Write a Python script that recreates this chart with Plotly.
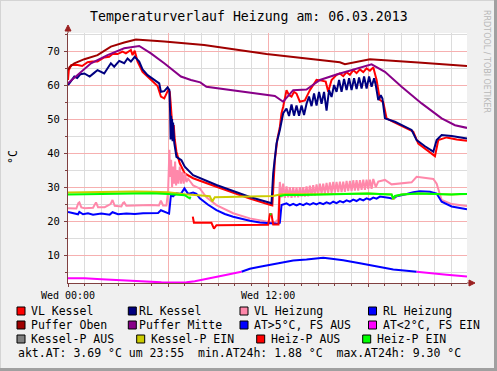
import plotly.graph_objects as go

# ---------------- data (hours since Wed 00:00, values in °C) ----------------
vl_kessel_h = [0, 0.05, 0.2, 0.58, 0.85, 1.17, 1.45, 1.77, 2.17, 2.47, 2.67, 2.97, 3.27, 3.47, 3.77, 3.87, 4.0,
               4.17, 4.47, 4.97, 5.37, 5.57, 5.77, 6.0, 6.1, 6.15, 6.22, 6.28, 6.34, 6.4, 6.5, 6.7, 7.0, 7.5, 8.9,
               10.9, 12.1, 12.25, 12.4, 12.55, 12.7, 12.8, 12.9, 13.1, 13.25, 13.4, 13.55, 13.7, 13.9, 14.2, 14.5,
               14.9, 15.2, 15.45, 15.6, 15.8, 16.1, 16.3, 16.5, 16.7, 16.9, 17.1, 17.3, 17.5, 17.7, 17.9, 18.1,
               18.3, 18.5, 18.7, 18.9, 19.1, 19.5, 20.1, 20.7, 21.0, 21.5, 22.0, 22.2, 22.7, 23.3, 23.92]
vl_kessel_v = [61.5, 64.4, 65.9, 65.9, 65.6, 66.7, 66.9, 66.9, 68.1, 68.3, 69.1, 69.1, 69.8, 69.3, 70.3, 68.8, 70.1,
               66.9, 63.9, 61.5, 59.7, 56.6, 56.1, 58.5, 58.0, 55.0, 50.0, 46.0, 48.2, 44.0, 40.4, 37.0, 34.0, 32.6,
               30.1, 26.6, 24.8, 24.6, 37.9, 44.0, 47.7, 51.7, 53.6, 58.5, 57.0, 56.6, 58.0, 57.5, 55.1, 55.5, 58.5,
               61.5, 61.3, 61.0, 58.0, 61.5, 63.0, 63.4, 62.6, 63.8, 63.0, 64.4, 63.5, 64.6, 63.8, 64.9, 64.2,
               65.2, 61.5, 55.6, 55.0, 50.2, 49.2, 47.8, 46.3, 42.8, 41.0, 39.1, 43.8, 44.6, 44.0, 43.6]

rl_kessel_h = [0, 0.2, 0.38, 0.55, 0.75, 0.98, 1.3, 1.55, 1.77, 2.17, 2.57, 2.77, 3.07, 3.37, 3.57, 3.77, 4.0, 4.27,
               4.47, 4.77, 5.17, 5.47, 5.57, 5.77, 5.97, 6.08, 6.12, 6.15, 6.18, 6.21, 6.24, 6.27, 6.3, 6.33, 6.37,
               6.5, 6.8, 7.0, 7.5, 8.9, 10.9, 12.1, 12.2, 12.3, 12.5, 12.7, 12.9, 13.1, 13.25, 13.4, 13.55, 13.7,
               13.85, 14.0, 14.15, 14.3, 14.45, 14.6, 14.75, 14.9, 15.05, 15.2, 15.35, 15.5, 15.65, 15.8, 15.95,
               16.1, 16.25, 16.4, 16.55, 16.7, 16.85, 17.0, 17.15, 17.3, 17.45, 17.6, 17.75, 17.9, 18.05, 18.2,
               18.35, 18.45, 18.6, 18.75, 18.85, 19.0, 19.6, 20.6, 20.9, 21.4, 21.9, 22.1, 22.4, 23.0, 23.92]
rl_kessel_v = [60.0, 61.5, 62.5, 62.1, 63.2, 63.4, 62.5, 63.5, 64.4, 63.4, 66.4, 65.4, 67.1, 66.4, 67.8, 66.9, 68.3,
               66.9, 64.6, 62.9, 61.5, 60.5, 58.0, 58.2, 59.3, 58.5, 52.0, 44.0, 51.0, 45.0, 50.0, 43.5, 49.0, 44.0,
               43.0, 38.9, 37.9, 36.0, 33.5, 30.6, 27.1, 25.4, 25.2, 34.0, 42.8, 46.8, 51.7, 53.1, 50.9, 54.3, 51.0,
               54.0, 51.0, 54.0, 51.2, 54.5, 56.6, 53.8, 57.5, 54.0, 58.0, 54.5, 58.0, 52.5, 58.5, 56.5, 60.0,
               58.0, 61.5, 58.0, 61.8, 58.5, 62.0, 58.5, 62.0, 58.8, 62.2, 59.0, 62.5, 59.0, 62.5, 59.5,
               62.0, 60.0, 55.6, 57.0, 56.0, 50.2, 49.2, 46.8, 43.8, 42.0, 40.4, 43.8, 45.3, 45.0, 44.3]

vl_heizung_h = [0, 0.5, 0.62, 0.68, 0.8, 1.0, 1.5, 1.62, 1.68, 1.8, 2.2, 2.55, 2.67, 2.8, 3.2, 3.3, 3.37, 3.5, 4.0,
                4.5, 5.0, 5.45, 5.57, 5.7, 5.9, 6.0, 6.08, 6.12, 6.18, 6.24, 6.3, 6.36, 6.42, 6.48, 6.55, 6.62,
                6.7, 6.78, 6.86, 6.94, 7.02, 7.1, 7.2, 7.35, 7.5, 7.9, 8.3, 8.9, 9.9, 10.9, 11.9, 12.2, 12.45, 12.6,
                12.7, 12.8, 12.9, 13.0, 13.1, 13.2, 13.3, 13.4, 13.5, 13.6, 13.7, 13.8, 13.9, 14.0, 14.1, 14.2,
                14.3, 14.4, 14.5, 14.6, 14.7, 14.8, 14.9, 15.0, 15.1, 15.2, 15.3, 15.4, 15.5, 15.6, 15.7, 15.8,
                15.9, 16.0, 16.1, 16.2, 16.3, 16.4, 16.5, 16.6, 16.7, 16.8, 16.9, 17.0, 17.1, 17.2, 17.3, 17.4,
                17.5, 17.6, 17.7, 17.8, 17.9, 18.0, 18.1, 18.2, 18.3, 18.45, 18.6, 19.0, 19.4, 20.6, 20.9, 21.9,
                22.1, 22.4, 23.0, 23.92]
vl_heizung_v = [23.8, 23.7, 25.3, 25.5, 24.0, 23.8, 23.9, 25.3, 25.5, 24.1, 24.1, 25.0, 26.2, 24.5, 24.3, 25.3, 25.5,
                24.5, 24.6, 24.6, 24.7, 24.6, 26.0, 24.6, 24.6, 28.5, 41.0, 33.0, 38.0, 30.0, 36.0, 31.0, 37.5,
                30.5, 35.0, 31.0, 36.0, 31.0, 34.5, 31.0, 34.0, 31.5, 32.5, 31.5, 30.5, 29.6, 27.0, 24.7, 22.3,
                20.8, 19.8, 19.6, 19.8, 20.5, 31.5, 27.0, 31.0, 26.8, 30.2, 27.0, 30.0, 26.8, 30.0, 27.0, 29.8,
                27.0, 30.0, 27.2, 30.0, 27.2, 30.2, 27.3, 30.4, 27.5, 30.6, 27.5, 30.8, 27.8, 31.0, 28.0, 31.0,
                28.0, 31.2, 28.2, 31.4, 28.3, 31.5, 28.4, 31.5, 28.5, 31.6, 28.5, 31.6, 28.6, 31.8, 28.8, 31.8,
                28.8, 32.0, 29.0, 32.0, 29.0, 32.0, 29.2, 32.2, 29.2, 32.2, 29.4, 32.2, 29.5, 32.4, 30.0, 31.6,
                32.1, 30.8, 31.4, 33.0, 32.4, 31.0, 26.2, 25.0, 24.4]

rl_heizung_h = [0, 0.3, 0.6, 0.68, 0.9, 1.2, 1.5, 2.0, 2.5, 2.67, 3.0, 3.5, 4.0, 4.5, 5.0, 5.4, 5.57, 5.8, 6.06, 6.17,
                6.3, 6.5, 6.77, 6.98, 7.2, 7.5, 7.7, 7.9, 8.4, 8.9, 9.4, 9.9, 10.4, 10.9, 11.5, 12.1, 12.55, 12.7,
                12.8, 13.1, 13.3, 13.5, 13.7, 13.9, 14.1, 14.3, 14.5, 14.7, 14.9, 15.1, 15.3, 15.5, 15.7, 15.9,
                16.1, 16.3, 16.5, 16.7, 16.9, 17.1, 17.3, 17.5, 17.7, 17.9, 18.1, 18.3, 18.5, 18.7, 19.0, 19.3,
                19.5, 19.7, 20.2, 20.7, 21.1, 21.7, 22.1, 22.4, 23.0, 23.92]
rl_heizung_v = [22.7, 22.4, 22.0, 22.7, 22.0, 22.3, 21.9, 22.2, 21.9, 22.6, 22.0, 22.2, 22.1, 22.3, 22.3, 22.4, 23.2,
                22.8, 22.2, 27.6, 27.3, 28.2, 28.0, 29.6, 28.0, 28.4, 28.0, 26.7, 24.8, 23.2, 22.1, 21.3, 20.6,
                20.1, 19.6, 19.3, 19.2, 19.5, 24.7, 25.2, 24.6, 25.1, 24.6, 25.1, 24.7, 25.2, 24.8, 25.3, 24.9,
                25.4, 25.0, 25.5, 25.1, 25.7, 25.3, 25.9, 25.5, 26.1, 25.7, 26.3, 25.9, 26.5, 26.1, 26.7, 26.3,
                26.9, 26.6, 27.2, 27.1, 26.8, 26.5, 27.3, 27.8, 28.5, 28.8, 28.6, 28.1, 25.7, 24.3, 23.5]

puffer_oben_h = [0, 0.1, 0.38, 0.98, 1.77, 2.57, 3.37, 4.07, 5.77, 8.16, 11.9, 14.0, 16.3, 16.6, 17.3, 18.1, 21.0, 23.92]
puffer_oben_v = [64.4, 65.3, 66.4, 67.6, 68.8, 71.3, 72.5, 73.4, 72.8, 71.8, 69.1, 68.0, 66.7, 66.1, 66.9, 67.6,
                 66.6, 65.6]

puffer_mitte_h = [0, 0.58, 1.38, 2.37, 3.37, 4.27, 4.97, 5.77, 6.77, 7.37, 7.93, 8.3, 9.9, 12.4, 12.9, 13.5, 14.3,
                  15.1, 16.1, 17.2, 18.2, 19.0, 20.0, 21.2, 22.4, 23.2, 23.92]
puffer_mitte_v = [60.5, 62.9, 66.4, 68.8, 70.8, 71.5, 69.3, 66.4, 62.5, 61.5, 60.8, 59.5, 58.5, 56.8, 55.1, 58.5,
                  58.7, 61.5, 63.1, 64.6, 66.1, 63.9, 59.5, 54.6, 50.2, 48.2, 47.4]

at_cold1_h = [0, 0.5, 1, 2, 3, 3.5, 4.6, 5.6, 6.1, 7.1, 7.6, 8.1, 8.6, 9.1, 9.6, 10.1, 10.4]
at_cold1_v = [3.2, 3.3, 3.2, 2.9, 2.6, 2.45, 2.3, 2.0, 1.95, 2.0, 2.3, 2.85, 3.3, 3.8, 4.3, 4.8, 5.1]
at_warm_h = [10.4, 10.9, 11.5, 12.1, 12.7, 13.5, 14.3, 15.3, 15.8, 16.5, 17.5, 18.5, 19.5, 20.3, 20.9]
at_warm_v = [5.1, 6.0, 6.6, 7.2, 7.7, 8.4, 8.7, 9.2, 8.9, 8.5, 7.6, 6.7, 5.8, 5.4, 5.1]
at_cold2_h = [20.9, 21.4, 22.0, 22.7, 23.4, 23.92]
at_cold2_v = [5.1, 4.8, 4.6, 4.2, 3.9, 3.7]

kessel_p_ein_h = [0, 1, 2, 3, 4, 5, 6, 7, 7.5, 8.0, 8.5, 8.65, 8.8, 9.5, 10.5, 11.5, 12.3, 12.7, 13, 15, 17, 18,
                  19, 19.4, 19.5, 19.6, 20, 21, 22, 23, 23.92]
kessel_p_ein_v = [28.4, 28.5, 28.6, 28.7, 28.7, 28.6, 28.5, 27.9, 27.6, 27.5, 27.3, 25.8, 27.0, 27.1, 27.2, 27.3,
                  27.4, 27.8, 27.9, 27.9, 28.0, 28.1, 27.9, 27.8, 26.3, 27.3, 27.8, 28.1, 28.0, 27.8, 28.0]

heiz_p_aus_h = [7.48, 7.55, 8.6, 8.75, 8.9, 12.0, 12.1, 12.2, 12.3, 12.62, 12.68]
heiz_p_aus_v = [21.3, 19.5, 19.5, 17.8, 18.8, 18.9, 22.0, 22.0, 19.0, 19.0, 27.5]

heiz_p_ein1_h = [0, 1, 2, 3, 4, 5, 6, 6.5, 7.0, 7.2, 7.3, 7.35]
heiz_p_ein1_v = [27.8, 27.9, 28.0, 28.1, 28.2, 28.2, 28.0, 27.9, 27.6, 27.0, 26.7, 27.2]
heiz_p_ein2_h = [12.1, 12.2]
heiz_p_ein2_v = [22.0, 22.0]
heiz_p_ein3_h = [12.7, 13, 14, 15, 16, 17, 18, 19, 19.4, 19.5, 19.6, 20, 21, 22, 22.5, 23, 23.5, 23.92]
heiz_p_ein3_v = [27.4, 27.7, 27.7, 27.8, 27.9, 28.0, 28.1, 27.9, 27.8, 26.7, 27.4, 27.8, 28.1, 28.0, 27.9, 27.8,
                 28.0, 28.0]

x_tick_vals = [0, 6, 12, 18]
x_tick_text = ["Wed 00:00", "", "Wed 12:00", ""]
y_tick_vals = [10, 20, 30, 40, 50, 60, 70]

legend_labels = [["VL Kessel", "RL Kessel", "VL Heizung", "RL Heizung"],
                 ["Puffer Oben", "Puffer Mitte", "AT>5°C, FS AUS", "AT<2°C, FS EIN"],
                 ["Kessel-P AUS", "Kessel-P EIN", "Heiz-P AUS", "Heiz-P EIN"]]
legend_colors = [["#FF0000", "#000080", "#FF88AA", "#0000FF"],
                 ["#A00000", "#880088", "#0000FF", "#FF00FF"],
                 ["#808080", "#CCCC00", "#FF0000", "#00FF00"]]
summary_text = "akt.AT: 3.69 °C um 23:55  min.AT24h: 1.88 °C  max.AT24h: 9.30 °C"
title_text = "Temperaturverlauf Heizung am: 06.03.2013"

# ---------------- figure ----------------
W, H = 497, 371
L, R, T, B = 68, 30, 33, 88
PW, PH = W - L - R, H - T - B
MONO = "DejaVu Sans Mono"


def px(x):
    return (x - L) / PW


def py(y):
    return (H - B - y) / PH


fig = go.Figure()


def add_line(h, v, color, width=2):
    fig.add_trace(go.Scatter(x=h, y=v, mode="lines", line=dict(color=color, width=width),
                             showlegend=False, hoverinfo="skip"))


add_line(vl_kessel_h, vl_kessel_v, "#FF0000")
add_line(rl_kessel_h, rl_kessel_v, "#000080")
add_line(vl_heizung_h, vl_heizung_v, "#FF88AA")
add_line(rl_heizung_h, rl_heizung_v, "#0000FF")
add_line(puffer_oben_h, puffer_oben_v, "#A00000")
add_line(puffer_mitte_h, puffer_mitte_v, "#880088")
add_line(at_warm_h, at_warm_v, "#0000FF")
add_line(at_cold1_h, at_cold1_v, "#FF00FF")
add_line(at_cold2_h, at_cold2_v, "#FF00FF")
add_line(kessel_p_ein_h, kessel_p_ein_v, "#CCCC00")
add_line(heiz_p_aus_h, heiz_p_aus_v, "#FF0000")
add_line(heiz_p_ein1_h, heiz_p_ein1_v, "#00FF00")
add_line(heiz_p_ein2_h, heiz_p_ein2_v, "#00FF00")
add_line(heiz_p_ein3_h, heiz_p_ein3_v, "#00FF00")

axis_col = "#804040"
fig.update_layout(
    width=W, height=H,
    margin=dict(l=L, r=R, t=T, b=B, pad=0),
    paper_bgcolor="#F0F0F0", plot_bgcolor="#FFFFFF",
    font=dict(family=MONO, size=10, color="#000000"),
    xaxis=dict(range=[0, 23.92], tickmode="array", tickvals=x_tick_vals, ticktext=x_tick_text,
               showgrid=True, gridcolor="#F6B0B0", gridwidth=1, zeroline=False,
               showline=True, linecolor=axis_col, linewidth=1,
               ticks="outside", ticklen=3, tickcolor=axis_col, tickfont=dict(family=MONO, size=10),
               minor=dict(dtick=1, tick0=0, showgrid=True, gridcolor="#DCDCDC", gridwidth=1,
                          ticks="outside", ticklen=2, tickcolor=axis_col)),
    yaxis=dict(range=[1.8, 75.3], tickmode="array", tickvals=y_tick_vals,
               showgrid=True, gridcolor="#F6B0B0", gridwidth=1, zeroline=False,
               showline=True, linecolor=axis_col, linewidth=1,
               ticks="outside", ticklen=3, tickcolor=axis_col, tickfont=dict(family=MONO, size=10.5),
               ticklabelstandoff=2,
               minor=dict(dtick=5, tick0=0, showgrid=True, gridcolor="#DCDCDC", gridwidth=1,
                          ticks="outside", ticklen=2, tickcolor=axis_col)),
)

shapes = []
annotations = []

# frame of the canvas
shapes.append(dict(type="line", xref="paper", yref="paper", x0=px(0), x1=px(W), y0=py(0.5), y1=py(0.5),
                   line=dict(color="#D4D4D4", width=1)))
shapes.append(dict(type="line", xref="paper", yref="paper", x0=px(0.5), x1=px(0.5), y0=py(0), y1=py(H),
                   line=dict(color="#D4D4D4", width=1)))
shapes.append(dict(type="line", xref="paper", yref="paper", x0=px(0), x1=px(W), y0=py(H - 1.5), y1=py(H - 1.5),
                   line=dict(color="#A0A0A0", width=3)))
shapes.append(dict(type="line", xref="paper", yref="paper", x0=px(W - 1.5), x1=px(W - 1.5), y0=py(0), y1=py(H),
                   line=dict(color="#A0A0A0", width=3)))

# axis arrows
shapes.append(dict(type="line", xref="paper", yref="paper", x0=px(L), x1=px(L), y0=py(T), y1=py(29),
                   line=dict(color=axis_col, width=1)))
shapes.append(dict(type="path", xref="paper", yref="paper",
                   path="M {} {} L {} {} L {} {} Z".format(px(L - 3), py(31), px(L + 3), py(31), px(L), py(25)),
                   fillcolor="#9B2020", line=dict(color="#9B2020", width=1)))
shapes.append(dict(type="line", xref="paper", yref="paper", x0=px(L + PW), x1=px(L + PW + 3), y0=0, y1=0,
                   line=dict(color=axis_col, width=1)))
shapes.append(dict(type="path", xref="paper", yref="paper",
                   path="M {} {} L {} {} L {} {} Z".format(px(L + PW + 2), py(H - B - 3), px(L + PW + 2),
                                                           py(H - B + 3), px(L + PW + 8), py(H - B)),
                   fillcolor="#9B2020", line=dict(color="#9B2020", width=1)))

# title, axis label, watermark
annotations.append(dict(text=title_text, xref="paper", yref="paper", x=px(249), y=py(17), showarrow=False,
                        xanchor="center", yanchor="middle", font=dict(family=MONO, size=13.2, color="#000000")))
annotations.append(dict(text="°C", xref="paper", yref="paper", x=px(13), y=py(157), showarrow=False,
                        textangle=-90, xanchor="center", yanchor="middle",
                        font=dict(family=MONO, size=11.5, color="#000000")))
annotations.append(dict(text="RRDTOOL / TOBI OETIKER", xref="paper", yref="paper", x=px(487), y=py(61),
                        showarrow=False, textangle=90, xanchor="center", yanchor="middle",
                        font=dict(family="DejaVu Sans", size=8, color="#B8B8B8")))

# legend
box_x = [[17, 128.3, 240, 368.5], [17, 128.3, 240, 368.5], [17, 136.7, 256.7, 362.7]]
text_x = [[30, 138.3, 253.3, 381.7], [30, 138.3, 253.3, 381.7], [30, 150, 270, 376]]
row_y = [311, 325, 339]
for r in range(3):
    for c in range(4):
        x0 = box_x[r][c]
        yc = row_y[r]
        shapes.append(dict(type="rect", xref="paper", yref="paper", x0=px(x0), x1=px(x0 + 8),
                           y0=py(yc + 4), y1=py(yc - 4), fillcolor=legend_colors[r][c],
                           line=dict(color="#000000", width=1)))
        annotations.append(dict(text=legend_labels[r][c], xref="paper", yref="paper", x=px(text_x[r][c] - 1),
                                y=py(yc), showarrow=False, xanchor="left", yanchor="middle",
                                font=dict(family=MONO, size=11.5, color="#000000")))
annotations.append(dict(text=summary_text, xref="paper", yref="paper", x=px(15.5), y=py(353), showarrow=False,
                        xanchor="left", yanchor="middle", font=dict(family=MONO, size=11.5, color="#000000")))

fig.update_layout(shapes=shapes, annotations=annotations)
fig.write_html("out.html", config={"displayModeBar": False},
               post_script="document.body.style.margin='0px';document.body.style.background='#F0F0F0';")
